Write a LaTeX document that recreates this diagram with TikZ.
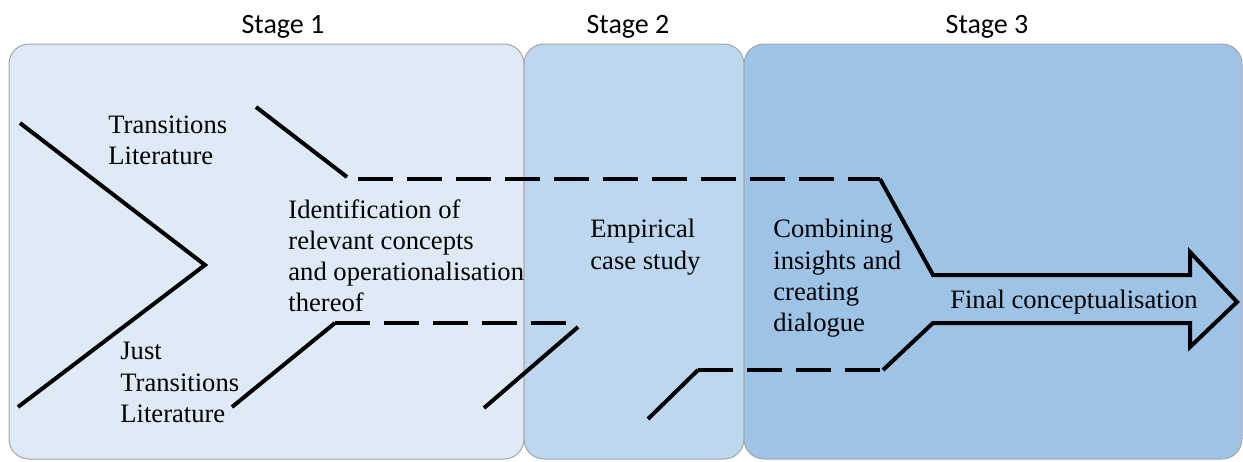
\documentclass[tikz,border=0pt]{standalone}
\usepackage{fontspec}
\setmainfont{Liberation Serif}
\newfontfamily\stagefont{Carlito}
\usepackage{xcolor}
\usepackage{tikz}
\usetikzlibrary{calc}
\definecolor{edge}{HTML}{A6A6A6}
\definecolor{stageA}{HTML}{DEEAF6}
\definecolor{stageB}{HTML}{BDD7EE}
\definecolor{stageC}{HTML}{9DC3E6}
\tikzset{
  stagebox/.style={draw=edge, line width=0.5pt, rounded corners=10pt},
  stagelab/.style={font=\stagefont\fontsize{14}{16}\selectfont, inner sep=0pt},
  txt/.style={font=\fontsize{13.3}{15.6}\selectfont, align=left, anchor=north west, inner sep=0pt},
  solidln/.style={line width=2pt, draw=black},
  dashln/.style={line width=2pt, draw=black, dash pattern=on 17.5pt off 7pt}
}

\begin{document}
\begin{tikzpicture}[x=0.5pt, y=-0.5pt]
  \useasboundingbox (0,0) rectangle (1243,461);

  % the three stages
  \draw[stagebox, fill=stageA] (9,44) rectangle (524,459);
  \draw[stagebox, fill=stageB] (524,44) rectangle (744,459);
  \draw[stagebox, fill=stageC] (744,44) rectangle (1242,459);

  \node[stagelab] (s1) at (283,27) {Stage 1};
  \node[stagelab] (s2) at (628,27) {Stage 2};
  \node[stagelab] (s3) at (987,27) {Stage 3};

  % texts
  \node[txt] (trlit) at (108,115) {Transitions\\Literature};
  \node[txt] (jtlit) at (120,342) {Just\\Transitions\\Literature};
  \node[txt] (ident) at (288,199) {Identification of\\relevant concepts\\and operationalisation\\thereof};
  \node[txt] (emp) at (590,219) {Empirical\\case study};
  \node[txt] (comb) at (773,219) {Combining\\insights and\\creating\\dialogue};
  \node[inner sep=0pt, font=\fontsize{13.3}{15.6}\selectfont] (final) at (1074,302) {Final conceptualisation};

  % key points
  \coordinate (tip) at (205,265);
  \coordinate (upA) at (347,177);
  \coordinate (upB) at (880,179);
  \coordinate (loA) at (335,323);
  \coordinate (loB) at (883,370);
  \coordinate (loC) at (698,370);

  % the chevron
  \draw[solidln, line join=miter] (20,123) -- (tip) -- (18,407);

  % upper strand
  \draw[solidln] (256,107) -- (upA);
  \draw[dashln] (358,179) -- (upB);

  % lower strands
  \draw[solidln] (232,407) -- (loA);
  \draw[dashln] (loA) -- (567,323);
  \draw[solidln] (578,327) -- (484,408);
  \draw[dashln] (loC) -- (loB);
  \draw[solidln] (loC) -- (648,419);

  % final arrow
  \draw[solidln, line join=miter] (upB) -- (933,275) -- (1190,275) -- (1190,252)
    -- (1237,302) -- (1190,347) -- (1190,323) -- (933,323) -- (loB);
\end{tikzpicture}
\end{document}
